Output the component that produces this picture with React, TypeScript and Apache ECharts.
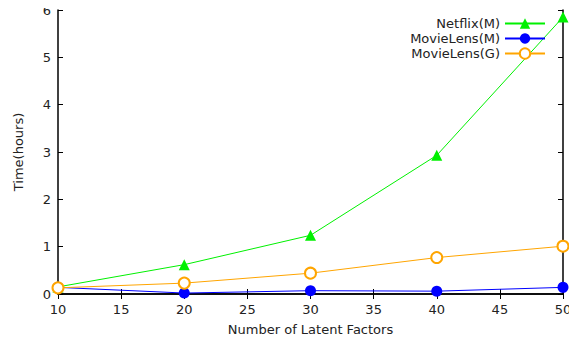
import React, { useEffect, useRef } from "react";
import * as echarts from "echarts";

const factors = [10, 20, 30, 40, 50];
const netflixM = [0.15, 0.62, 1.24, 2.93, 5.85];
const movieLensM = [0.14, 0.02, 0.07, 0.06, 0.14];
const movieLensG = [0.13, 0.23, 0.44, 0.77, 1.01];
const seriesNames = ["Netflix(M)", "MovieLens(M)", "MovieLens(G)"];

const FONT = "DejaVu Sans";
const FS = 13;

export default function App() {
  const ref = useRef<HTMLDivElement>(null);
  useEffect(() => {
    if (!ref.current) return;
    const chart = echarts.init(ref.current, undefined, { renderer: "svg" });
    const pair = (ys: number[]) => factors.map((x, i) => [x, ys[i]]);
    const axisLine = { show: true, lineStyle: { color: "#000", width: 1.5 } };
    const tick = { show: true, inside: true, length: 5, lineStyle: { color: "#000", width: 1 } };
    const label = { color: "#222", fontFamily: FONT, fontSize: FS };
    chart.setOption({
      animation: false,
      backgroundColor: "#fff",
      grid: { left: 58, right: 14, top: 10, bottom: 49, containLabel: false },
      legend: {
        orient: "vertical",
        right: 31,
        top: 16,
        padding: 0,
        align: "right",
        itemWidth: 40,
        itemHeight: 13,
        itemGap: 0,
        textStyle: { fontFamily: FONT, fontSize: FS, color: "#222", lineHeight: 15 },
        data: seriesNames,
      },
      xAxis: [
        {
          type: "value",
          min: 10,
          max: 50,
          interval: 5,
          name: "Number of Latent Factors",
          nameLocation: "middle",
          nameGap: 29,
          nameTextStyle: { fontFamily: FONT, fontSize: FS, color: "#222" },
          axisLine,
          axisTick: tick,
          axisLabel: { ...label, margin: 9 },
          splitLine: { show: false },
        },
        {
          type: "value",
          position: "top",
          min: 10,
          max: 50,
          interval: 5,
          axisLine,
          axisTick: tick,
          axisLabel: { show: false },
          splitLine: { show: false },
        },
      ],
      yAxis: [
        {
          type: "value",
          min: 0,
          max: 6,
          interval: 1,
          name: "Time(hours)",
          nameLocation: "middle",
          nameGap: 33,
          nameTextStyle: { fontFamily: FONT, fontSize: FS, color: "#222" },
          axisLine,
          axisTick: tick,
          axisLabel: { ...label, margin: 7 },
          splitLine: { show: false },
        },
        {
          type: "value",
          position: "right",
          min: 0,
          max: 6,
          interval: 1,
          axisLine,
          axisTick: tick,
          axisLabel: { show: false },
          splitLine: { show: false },
        },
      ],
      series: [
        {
          name: seriesNames[0],
          type: "line",
          data: pair(netflixM),
          symbol: "triangle",
          symbolSize: 11,
          itemStyle: { color: "#00f000" },
          lineStyle: { color: "#00f000", width: 1 },
        },
        {
          name: seriesNames[1],
          type: "line",
          data: pair(movieLensM),
          symbol: "circle",
          symbolSize: 11,
          itemStyle: { color: "#0000ff" },
          lineStyle: { color: "#0000ff", width: 1 },
        },
        {
          name: seriesNames[2],
          type: "line",
          data: pair(movieLensG),
          symbol: "emptyCircle",
          symbolSize: 11,
          itemStyle: { color: "#ffa500", borderColor: "#ffa500", borderWidth: 1 },
          lineStyle: { color: "#ffa500", width: 1 },
        },
      ],
    });
    return () => chart.dispose();
  }, []);
  return <div ref={ref} style={{ width: 577, height: 343, margin: -8 }} />;
}
